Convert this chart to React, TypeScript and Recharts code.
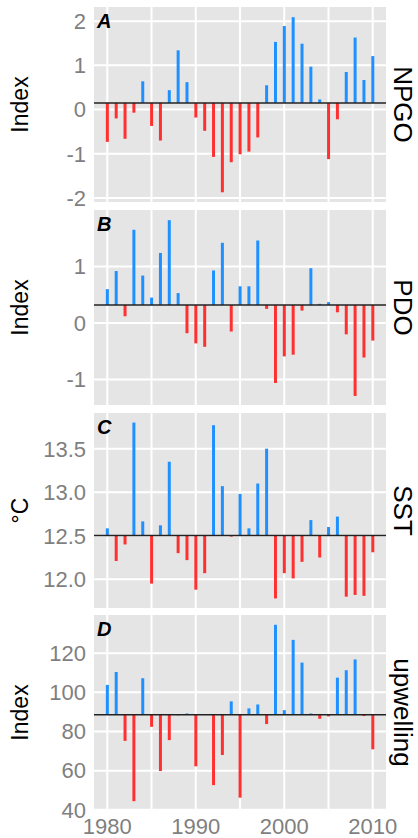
import { Bar, BarChart, CartesianGrid, Cell, ReferenceLine, XAxis, YAxis } from "recharts";

const YEARS = [
  1980, 1981, 1982, 1983, 1984, 1985, 1986, 1987, 1988, 1989, 1990, 1991, 1992,
  1993, 1994, 1995, 1996, 1997, 1998, 1999, 2000, 2001, 2002, 2003, 2004, 2005,
  2006, 2007, 2008, 2009, 2010,
];

const NPGO = [
  -0.73, -0.2, -0.66, -0.07, 0.64, -0.37, -0.7, 0.44, 1.34, 0.62, -0.18, -0.48,
  -1.07, -1.87, -1.19, -1.01, -0.95, -0.63, 0.55, 1.53, 1.89, 2.09, 1.49, 0.97,
  0.23, -1.12, -0.22, 0.85, 1.63, 0.67, 1.21,
];
const PDO = [
  0.6, 0.92, 0.12, 1.65, 0.84, 0.45, 1.24, 1.82, 0.53, -0.18, -0.36, -0.42, 0.93,
  1.42, -0.15, 0.65, 0.65, 1.46, 0.25, -1.06, -0.59, -0.56, 0.22, 0.97, 0.34,
  0.37, 0.19, -0.2, -1.29, -0.61, -0.31,
];
const SST = [
  12.585, 12.21, 12.4, 13.8, 12.665, 11.95, 12.62, 13.35, 12.3, 12.22, 11.88,
  12.07, 13.77, 13.07, 12.49, 12.98, 12.585, 13.1, 13.5, 11.78, 12.07, 12.01,
  12.2, 12.68, 12.25, 12.6, 12.72, 11.8, 11.82, 11.81, 12.31,
];
const UPWELLING = [
  103.8, 110.4, 75.2, 44.4, 107.2, 82.4, 59.8, 75.6, 88.3, 89.2, 62.2, 88.6,
  52.6, 68.0, 95.4, 46.2, 91.8, 93.8, 83.8, 134.5, 90.9, 126.8, 115.2, 89.2,
  86.5, 87.7, 107.5, 111.3, 116.8, 87.9, 70.9,
];

const GRID_YEARS = [1980, 1985, 1990, 1995, 2000, 2005, 2010];
const DECADES = [1980, 1990, 2000, 2010];

const BLUE = "#1E90FF";
const RED = "#FF3030";
const TICK_GRAY = "#7F7F7F";
const PANEL_H = 195;
const XAXIS_H = 28;
const GAP_H = 8;

type PanelProps = {
  values: number[];
  letter: string;
  strip: string;
  yTitle: string;
  domain: [number, number];
  ticks: number[];
  decimals?: number;
  top: number;
  showX?: boolean;
};

// empty tick so the upper panels keep their x axis (and grid) without labels
const NoTick = () => <g />;

function Panel({ values, letter, strip, yTitle, domain, ticks, decimals, top, showX }: PanelProps) {
  const mean = values.reduce((a, b) => a + b, 0) / values.length;
  const data = YEARS.map((year, i) => ({
    year,
    value: values[i],
    range: [Math.min(mean, values[i]), Math.max(mean, values[i])],
  }));
  const xh = showX ? XAXIS_H : GAP_H;

  return (
    <div style={{ position: "absolute", left: 0, top }}>
      <BarChart
        width={418}
        height={PANEL_H + xh}
        data={data}
        margin={{ top: 0, right: 0, bottom: 0, left: 0 }}
      >
        <CartesianGrid
          fill="#E5E5E5"
          stroke="#FFFFFF"
          strokeWidth={2}
          verticalValues={GRID_YEARS}
          horizontalValues={ticks}
        />
        <XAxis
          dataKey="year"
          type="number"
          domain={[1978.5, 2011.5]}
          ticks={GRID_YEARS}
          tickFormatter={(v) => (DECADES.includes(v) ? String(v) : "")}
          tickLine={false}
          axisLine={false}
          height={xh}
          tick={showX ? { fontSize: 22, fill: TICK_GRAY } : NoTick}
          interval={0}
        />
        <YAxis
          type="number"
          domain={domain}
          ticks={ticks}
          interval={0}
          width={94}
          tickLine={false}
          axisLine={false}
          allowDataOverflow
          tickFormatter={(v) => (decimals ? Number(v).toFixed(decimals) : String(v))}
          tick={{ fontSize: 22, fill: TICK_GRAY }}
          label={{
            value: yTitle,
            angle: -90,
            position: "insideLeft",
            offset: 20,
            style: { textAnchor: "middle", fontSize: 23, fill: "#000" },
          }}
        />
        <YAxis
          yAxisId="strip"
          orientation="right"
          type="number"
          domain={[0, 1]}
          width={32}
          tick={false}
          tickLine={false}
          axisLine={false}
          label={{
            value: strip,
            angle: 90,
            position: "insideRight",
            offset: 15,
            style: { textAnchor: "middle", fontSize: 26, fill: "#000" },
          }}
        />
        <ReferenceLine y={mean} stroke="#222222" strokeWidth={1.5} />
        <Bar dataKey="range" barSize={3} isAnimationActive={false}>
          {data.map((d) => (
            <Cell key={d.year} fill={d.value >= mean ? BLUE : RED} />
          ))}
        </Bar>
      </BarChart>
      <div
        style={{
          position: "absolute",
          left: 97,
          top: 4,
          fontSize: 20,
          lineHeight: "20px",
          fontWeight: "bold",
          fontStyle: "italic",
          color: "#000",
        }}
      >
        {letter}
      </div>
    </div>
  );
}

export default function App() {
  return (
    <div
      style={{
        position: "absolute",
        left: 0,
        top: 0,
        width: 418,
        height: 838,
        background: "#fff",
        fontFamily: '"Liberation Sans", Arial, Helvetica, sans-serif',
      }}
    >
      <Panel values={NPGO} letter="A" strip="NPGO" yTitle="Index" domain={[-2.09, 2.32]} ticks={[-2, -1, 0, 1, 2]} top={7} />
      <Panel values={PDO} letter="B" strip="PDO" yTitle="Index" domain={[-1.45, 2.0]} ticks={[-1, 0, 1]} top={210} />
      <Panel values={SST} letter="C" strip="SST" yTitle="°C" domain={[11.67, 13.91]} ticks={[12, 12.5, 13, 13.5]} decimals={1} top={413} />
      <Panel values={UPWELLING} letter="D" strip="upwelling" yTitle="Index" domain={[39.9, 139.5]} ticks={[40, 60, 80, 100, 120]} top={615} showX />
    </div>
  );
}
